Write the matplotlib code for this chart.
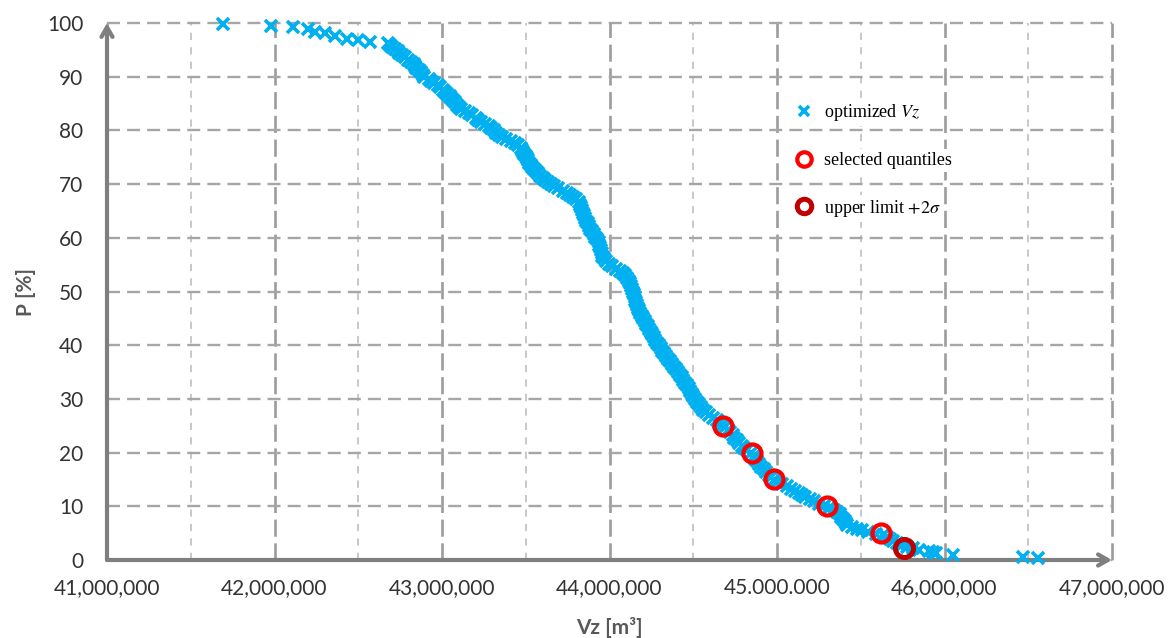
import numpy as np
import matplotlib
matplotlib.use('Agg')
from matplotlib import pyplot as plt

# optimized volume Vz [million m3] and exceedance probability P [%]
vz = [41.69, 41.98, 42.11, 42.20, 42.24, 42.30, 42.36, 42.43, 42.50, 42.57,
      42.675, 42.690, 42.700, 42.720, 42.735, 42.745, 42.760, 42.780, 42.800, 42.815,
      42.830, 42.840, 42.845, 42.860, 42.875, 42.885, 42.895, 42.920, 42.935, 42.955,
      42.975, 42.990, 43.005, 43.020, 43.030, 43.045, 43.055, 43.065, 43.080, 43.090,
      43.100, 43.115, 43.140, 43.160, 43.180, 43.200, 43.215, 43.235, 43.255, 43.280,
      43.295, 43.310, 43.325, 43.340, 43.360, 43.385, 43.410, 43.435, 43.455, 43.470,
      43.478, 43.485, 43.492, 43.500, 43.505, 43.512, 43.522, 43.530, 43.540, 43.550,
      43.562, 43.572, 43.585, 43.600, 43.615, 43.630, 43.650, 43.670, 43.695, 43.720,
      43.745, 43.765, 43.785, 43.800, 43.815, 43.825, 43.830, 43.835, 43.840, 43.848,
      43.855, 43.862, 43.870, 43.878, 43.885, 43.895, 43.905, 43.915, 43.928, 43.935,
      43.940, 43.945, 43.950, 43.955, 43.958, 43.965, 43.980, 43.995, 44.015, 44.040,
      44.060, 44.080, 44.095, 44.105, 44.115, 44.122, 44.128, 44.135, 44.140, 44.145,
      44.150, 44.155, 44.160, 44.165, 44.170, 44.175, 44.182, 44.192, 44.200, 44.210,
      44.220, 44.228, 44.237, 44.245, 44.255, 44.265, 44.272, 44.282, 44.295, 44.305,
      44.315, 44.328, 44.340, 44.352, 44.362, 44.372, 44.385, 44.395, 44.408, 44.420,
      44.430, 44.440, 44.452, 44.462, 44.472, 44.482, 44.492, 44.500, 44.510, 44.522,
      44.532, 44.545, 44.560, 44.578, 44.595, 44.615, 44.640, 44.655, 44.670, 44.690,
      44.705, 44.720, 44.735, 44.745, 44.760, 44.775, 44.790, 44.805, 44.820, 44.845,
      44.860, 44.870, 44.880, 44.890, 44.905, 44.920, 44.935, 44.950, 44.965, 44.980,
      45.000, 45.030, 45.060, 45.085, 45.105, 45.130, 45.150, 45.170, 45.195, 45.220,
      45.250, 45.280, 45.310, 45.340, 45.360, 45.375, 45.385, 45.395, 45.405, 45.412,
      45.420, 45.445, 45.480, 45.510, 45.545, 45.590, 45.630, 45.655, 45.675, 45.690,
      45.715, 45.745, 45.775, 45.810, 45.850, 45.905, 45.930, 45.950, 46.050, 46.470,
      46.560]
p = [99.8, 99.5, 99.2, 98.8, 98.4, 98.1, 97.6, 97.1, 96.8, 96.5,
     96.2, 95.9, 95.5, 95.2, 94.8, 94.4, 94.0, 93.6, 93.2, 92.8,
     92.4, 92.0, 91.6, 91.2, 90.8, 90.4, 90.0, 89.6, 89.2, 88.8,
     88.4, 88.0, 87.6, 87.2, 86.8, 86.4, 86.0, 85.6, 85.2, 84.8,
     84.4, 84.0, 83.6, 83.2, 82.8, 82.4, 82.0, 81.6, 81.2, 80.8,
     80.4, 80.0, 79.6, 79.2, 78.8, 78.4, 78.0, 77.6, 77.2, 76.8,
     76.4, 76.0, 75.6, 75.2, 74.8, 74.4, 74.0, 73.6, 73.2, 72.8,
     72.4, 72.0, 71.6, 71.2, 70.8, 70.4, 70.0, 69.6, 69.2, 68.8,
     68.4, 68.0, 67.6, 67.2, 66.7, 66.2, 65.7, 65.2, 64.7, 64.2,
     63.7, 63.2, 62.7, 62.2, 61.7, 61.2, 60.7, 60.2, 59.7, 59.2,
     58.7, 58.2, 57.7, 57.2, 56.7, 56.2, 55.7, 55.2, 54.7, 54.2,
     53.8, 53.4, 53.0, 52.5, 52.0, 51.5, 51.0, 50.5, 50.0, 49.5,
     49.0, 48.5, 48.0, 47.5, 47.0, 46.5, 46.0, 45.5, 45.0, 44.5,
     44.0, 43.5, 43.0, 42.5, 42.0, 41.5, 41.0, 40.5, 40.0, 39.5,
     39.0, 38.5, 38.0, 37.5, 37.0, 36.5, 36.0, 35.5, 35.0, 34.5,
     34.0, 33.5, 33.0, 32.5, 32.0, 31.5, 31.0, 30.5, 30.0, 29.5,
     29.0, 28.5, 28.0, 27.5, 27.0, 26.5, 26.0, 25.5, 25.2, 24.7,
     24.3, 23.8, 23.3, 22.8, 22.3, 21.8, 21.3, 20.8, 20.4, 19.9,
     19.4, 18.9, 18.4, 17.9, 17.4, 16.9, 16.4, 15.9, 15.4, 14.9,
     14.5, 14.1, 13.7, 13.3, 12.9, 12.5, 12.1, 11.7, 11.3, 10.9,
     10.5, 10.1, 9.7, 9.3, 8.9, 8.5, 8.1, 7.7, 7.3, 6.9,
     6.5, 6.1, 5.8, 5.5, 5.2, 4.9, 4.6, 4.3, 4.0, 3.6,
     3.2, 2.8, 2.5, 2.2, 1.9, 1.6, 1.5, 1.3, 1.0, 0.5,
     0.3]

# selected quantiles and the +2 sigma upper limit
q_vz = [44.68, 44.85, 44.98, 45.30, 45.62]
q_p = [25, 20, 15, 10, 5]
lim_vz = [45.76]
lim_p = [2.3]

x_ticks = [41, 42, 43, 44, 45, 46, 47]
x_labels = ['41,000,000', '42,000,000', '43,000,000', '44,000,000',
            '45.000.000', '46,000,000', '47,000,000']
y_ticks = [0, 10, 20, 30, 40, 50, 60, 70, 80, 90, 100]

plt.rcParams['font.family'] = ['Lato', 'DejaVu Sans']
plt.rcParams['mathtext.fontset'] = 'stix'

fig = plt.figure(figsize=(11.69, 6.38), dpi=100)
ax = fig.add_axes([107 / 1169, 1 - 560 / 638, 1005 / 1169, 537 / 638])

ax.set_xlim(41, 47)
ax.set_ylim(0, 100)
ax.set_xticks(x_ticks)
ax.set_xticklabels(x_labels)
ax.set_xticks(np.arange(41.5, 47, 1.0), minor=True)
ax.set_yticks(y_ticks)
for s in ax.spines.values():
    s.set_visible(False)
ax.tick_params(which='both', length=0, labelsize=15, labelcolor='#333333')
ax.tick_params(axis='y', pad=17)
ax.tick_params(axis='x', pad=13)

# dashed grid: long dashes on full millions, short ones on half millions
ax.yaxis.grid(True, color='#a6a6a6', lw=1.7, linestyle=(0, (5.5, 3)))
ax.xaxis.grid(True, which='major', color='#9c9c9c', lw=1.9, linestyle=(0, (6.5, 2.5)))
ax.xaxis.grid(True, which='minor', color='#c4c4c4', lw=1.3, linestyle=(0, (4, 4)))
for gl in ax.get_xgridlines() + ax.get_ygridlines():
    gl.set_clip_on(False)
ax.set_axisbelow(True)

# axes drawn as arrows
arrow = dict(arrowstyle='->,head_length=0.7,head_width=0.4', color='#7f7f7f',
             lw=3, shrinkA=0, shrinkB=0)
ax.annotate('', xy=(47, 0), xytext=(41, 0), arrowprops=arrow,
            annotation_clip=False, zorder=2)
ax.annotate('', xy=(41, 100), xytext=(41, 0), arrowprops=arrow,
            annotation_clip=False, zorder=2)

ax.plot(vz, p, 'x', color='#00b0f0', ms=8.5, mew=2.6, zorder=3,
        clip_on=False, label='optimized $Vz$')
ax.plot(q_vz, q_p, 'o', mfc='none', mec='#ff0000', ms=13, mew=3.0,
        zorder=4, clip_on=False, label='selected quantiles')
ax.plot(lim_vz, lim_p, 'o', mfc='none', mec='#c00000', ms=13, mew=3.6,
        zorder=4, clip_on=False, label='upper limit $+2\\sigma$')

ax.set_xlabel('Vz [m³]', fontsize=15, fontweight='bold', color='#595959', labelpad=14)
ax.set_ylabel('P [%]', fontsize=15, fontweight='bold', color='#595959', labelpad=8)

leg = ax.legend(loc='upper left', bbox_to_anchor=(786 / 1169, 1 - 93 / 638),
                bbox_transform=fig.transFigure, frameon=False,
                prop={'family': 'Liberation Serif', 'size': 13},
                handlelength=1.0, handletextpad=0.6, labelspacing=1.6,
                borderpad=0, markerscale=0.8)
for t in leg.get_texts():
    t.set_bbox(dict(facecolor='white', edgecolor='none', pad=2))

plt.savefig('out.png', dpi=100)
